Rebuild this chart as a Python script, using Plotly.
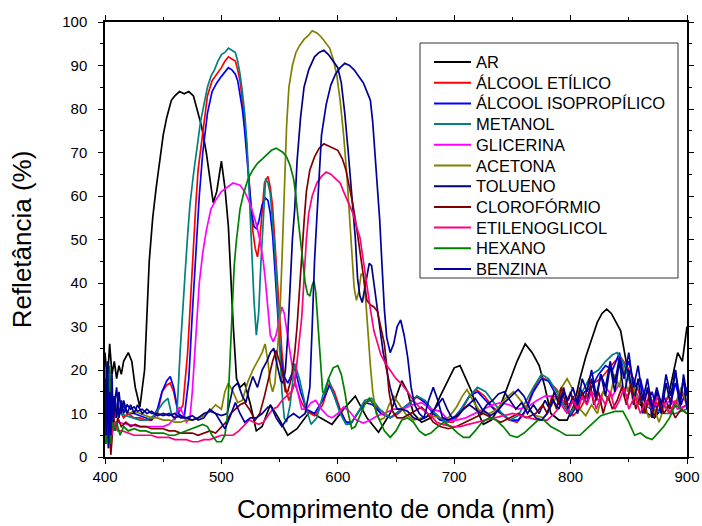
import plotly.graph_objects as go

# Reflectance spectra (%) versus wavelength (nm) for each medium
ar_nm = [400,402,404,406,408,410,412,414,416,418,420,423,426,430,434,438,441,444,447,450,453,457,460,464,468,472,476,480,483,487,490,493,496,500,503,506,510,513,516,520,525,530,535,542,549,557,565,576,585,595,605,615,625,635,645,655,660,665,672,680,688,695,700,705,710,715,720,725,732,740,747,754,761,767,773,778,783,790,797,803,808,813,818,823,827,831,835,839,843,847,851,855,860,866,872,878,884,888,892,896,900]
ar_r = [24,17,26,19,22,18,21,19,22,23,24,22,16,11.5,20,45,55,62,68,74,78,82,83,84,83.5,84,83,79,76,70,64,58.5,61,68,62,53,31,18,16,17,12,6,7,12,9,5,6.5,10.5,9,7.5,11,14,9,5.7,10,17.5,15,10,8,9,14,18,20.5,21,18,15,10.5,7.5,8.5,12,17,22,26,24,21,16,10,8.5,8.5,12,18,23,27,31,33,34,33,31,29,23,17,14,12,10,9,11,14,19,24,22,30]

etilico_nm = [400,403,406,409,412,416,420,425,430,435,440,445,449,453,456,459,463,467,471,474,476,478,480,484,488,492,496,500,503,506,509,512,514,516,518,520,522,525,527,529,531,533,535,537,540,542,544,546,548,550,552,555,558,563,568,573,580,587,593,597,602,607,611,617,623,628,635,645,652,660,668,675,682,688,694,699,705,712,719,726,733,740,747,754,760,767,774,781,788,795,802,808,814,820,826,832,838,843,848,854,860,866,872,878,884,890,895,900]
etilico_r = [12,6,14,9,11,9,10,9,9,8.5,8.5,10,15,16.5,17,15,10,12,24,40,49,58,66,75,83,86.5,88,89.5,91,92,91.5,91,89,86.5,82,77,70,60,52,48,46,50,57,63,64.5,62,57.5,49,40,30,24,16,13,17,13,10.5,9.5,12,17,15,11,8,7.5,10,12.5,13,11,9,10,12,13.8,12.5,10,8.5,8,8,10,13.5,15.5,14,11.5,10,8.5,8,10,15,18.5,17.5,15.5,12,9.5,11,14,17,18,20,22,23,21,18,14,12,13,11,14,12,15,12]

isopropilico_nm = [400,402,404,406,408,411,415,420,425,430,435,440,445,449,453,456,459,463,468,472,475,478,481,484,488,492,496,500,503,506,509,512,514,516,518,520,522,524,526,528,530,532,535,538,540,542,544,546,548,550,553,557,563,568,573,580,587,593,597,602,607,612,618,624,630,637,645,652,660,668,675,682,688,694,700,706,713,720,727,734,741,748,755,762,768,775,781,788,794,800,806,812,818,824,830,836,842,846,850,855,860,865,870,875,880,885,890,895,900]
isopropilico_r = [16,4,20,8,14,10,12,10,10,9.5,9,8.5,11,15,17.5,18.5,16,10,9,18,33,46,60,70,79,84,86,87.5,88.5,89.5,89,88,86.5,83,80,75,69,62,56,53,52.5,54,58,59.5,59,56,51,43,33,26,19,17,20.5,15,11,10,13,16.5,14,10.5,8,8,10.5,12.5,12,10,9,10.5,12,14,12.5,10,8.5,8.5,9,11,14,15,13,11,10,8.5,8.5,11,15,18,17.5,14,12,9.5,12,15,16,19,21,20,24,19,22,16,18,12,15,10,14,11,17,12,16]

metanol_nm = [400,402,404,406,409,413,418,424,430,436,442,446,450,454,457,460,462,464.5,467,469,471,473,476,479,482,485,488,491,494,497,500,503,506,509,512,514,516,518,520,522,524,526,528,530,532,534,536,538,540,542,544,546,548,550,552,554,556,559,563,567,572,577,582,587,592,597,602,607,611,617,623,629,636,645,652,660,668,675,682,688,694,700,706,713,720,727,734,741,748,755,762,768,775,781,788,794,800,806,812,818,824,830,836,840,845,850,856,862,870,880,890,900]
metanol_r = [20,8,15,10,12,10,9.5,9,8.5,8.5,9.5,11,12.5,13.5,10,8.5,11,24,36,43,51,58,65,71,77,81,85,87.5,89,91,92.5,93,94,93.5,93,91,88,84,79,72,60,47,36,28,33,45,56,64,63,60.5,54,47,37,26,15,9,8,12,21.5,18,12,7.5,9,14,18,14,10,7.5,7.6,10,13,13.5,11,9,10.5,12,14,13,10.5,9,8,9,11,14,16,15,12.5,10,8.5,9.5,13,16,19,18,15,12,10,13,16,19,20,22,23.5,24,22,18,14,12,11,10,10,11]

glicerina_nm = [400,410,420,430,440,450,455,460,464,467,470,473,475,477,479,481,484,487,491,495,500,505,510,516,520,525,530,533,536,538,540,542,544.5,547,550,552,554,556,559,562,566,569,573,577,581,586,591,595,600,605,610,616,622,628,634,640,648,656,664,672,680,688,695,702,710,718,726,733,740,747,755,763,771,778,785,792,800,806,812,818,824,830,836,842,848,854,860,866,872,880,886,892,900]
glicerina_r = [8,8,7.5,7,7,7,7.5,9,11.5,10,8,9,15,24,33,40,47,52,57,59,61,62,63,62.5,61,58,53.5,50,45,40,33,28,26.5,28,32,34.5,33,29,24,19,14,11,11,12.5,13,11,9.5,9,10,11.5,10.5,8.5,7.8,8.5,9.5,10,11,11,12,12.5,11,10.5,8.5,8.5,9,10,11,12,12.5,12,11,11.5,13,14,14,13,12,14,13,15,13,16,14,17,14,16,13,15,12,12,13,11,12]

acetona_nm = [400,402,404,406,408,411,415,420,425,430,435,440,445,450,455,460,465,470,475,480,485,490,495,500,503,506,510,514,518,523,527,531,535,537.5,540,542,544,546,548,550,552,554,556,558,561,564,567,571,575,578,582,586,590,593,596,599,602,605,608,610,612,614,616,618,620,622,624,626,628,630,633,636,640,644,648,653,658,665,672,680,688,695,702,707,711,716,722,730,737,744,751,757,763,770,777,784,790,797,803,808,813,818,823,828,833,838,842,845,849,853,858,862,867,872,876,881,886,891,895,900]
acetona_r = [14,5,18,9,13,10,11,10,10.5,10,9.5,9,9,8.5,8.5,8,8,8.5,8.5,9,9.5,10.5,12,11,15,17,15,12.5,13,17.5,20,22,24,26,22,17,15,17,24,31,45,62,76,85,90,93,94.5,96,97,98,97.5,96.5,95,94,91.5,88,82,74,64,55,47,39,36,38,42,42,36,28,21,15,10,8.5,9,12,14,12,10,8.5,9,9.5,9,9,11.5,14,15.5,13,10.5,10,11,13.5,15,13,11,9.5,9,12,15,18,15,11,9.5,12,10,15,13,19,16,21,15,18,12,14,9,11,8,12,10,13,16,12]

tolueno_nm = [400,401,402,403,404,405,406,407,408,410,412,414,416,419,422,425,428,432,436,440,445,450,455,460,465,470,475,480,485,490,495,500,505,510,514,518,521,524,527,531,535,539,542,545,548,551,553,555,557,559,561,563,565,568,571,575,580,584,588,592,596,600,603,606,609,611,613,615,617,619,621,624,627,629,631,634,637,639,642,645,648,651,655,660,665,670,675,680,686,690,694,698,703,708,713,718,723,728,733,738,743,748,753,758,763,768,773,778,782,786,790,794,798,802,806,810,814,818,822,826,830,834,838,842,846,850,854,858,862,866,870,874,878,882,886,890,894,897,900]
tolueno_r = [14,3,21,6,18,2,16,7,14,9,15,10,13,10,12,10,12,10,11,10,10,9.5,10,9,9.5,9,8.5,9,10,10.5,10,9.5,10,16,17,14,12.5,16,18.5,16,20,22,24,25,21,17.5,17,20,28,40,50,57,68,78,85,89,92,93,93.5,92.5,91,89.5,86,79,70,64,57,50.5,41,37,35.5,40,44.5,44,40,34,28,24,20,16,13,11,11,10.5,9,8.5,9,10,12,13.5,11,9,9.5,11,12,11,10,12,13,14.5,15,13,11,12.5,10,12,10,13,11,15,12,16,11,14,10,15,12,18,13,19,14,21,15,22,14,20,12,18,10,16,9,15,10,17,12,20,11,19,14]

cloroformio_nm = [400,401,402,403,404,405,406,407,409,411,414,418,422,426,430,435,440,445,450,455,460,465,470,475,480,485,490,495,500,504,508,512,516,520,524,529,533,537,540,544,547,550,552,555,557,560,563,565,567,569,571,573,576,580,584,588,592,596,600,604,607,610,613,616,619,622,625,628,631,634,637,640,642,644,647,651,656,662,668,672,677,682,688,695,702,710,718,725,732,740,748,755,762,770,776,780,784,788,792,796,800,804,808,812,816,820,824,828,832,836,840,844,848,852,856,860,864,868,872,876,880,885,890,895,900]
cloroformio_r = [16,6,12,3,8,0.5,4,10,6,9,7,8,7,7.5,7,7,6.5,6.5,6.5,6,6,5.5,5.5,5.5,5,5.5,6,5.5,7,8,10,11,12,12.5,11,8.5,10,14,17.5,22,24.5,22,20,15,15,18,24,30,39,46,54,61,66,69,71,72,71.5,71,70.5,68.5,66,62,58,53,47,41,36,35,34.5,33.5,30,26,21,15,10.5,9,9,10,11,11.5,10,8,7,6.5,7,8,9,10,9,8,9,10,9,10,12,10,14,11,16,12,15,11,16,13,18,12,15,10,14,11,13,16,12,17,11,14,10,15,9,13,10,12,9,11,10]

etilenoglicol_nm = [400,401,402,403,404,406,408,411,415,420,425,430,435,440,445,450,455,460,465,470,475,480,485,490,495,500,505,510,515,520,524,528,532,536,540,544,548,552,556,560,563,566,569,571,573,575,578,582,586,590,594,598,602,605,609,613,616,619,622,625,628,631,634,637,641,645,650,654,660,665,670,675,680,685,690,698,705,712,720,728,735,742,750,757,765,772,780,786,792,797,802,806,810,814,818,822,826,830,834,838,842,846,850,855,860,865,870,875,880,885,890,895,900]
etilenoglicol_r = [12,4,10,2,9,5,8,6,6,5.5,5,5,5,5,4.5,4.5,4.5,4,4,4,3.5,3.5,4,4,4.5,5,5,5,6,7.5,8.5,8,7.5,8,9.5,11,11.5,13,14,15,17,24,32,41,50,56,60,63,64.5,65.5,65,64,63,61,58.5,56,53,50.5,45,39,34,29,26,23.5,21.5,20,18,17,15,13,11.5,10.5,9.5,8,7.5,7,7,7.5,8,8.5,9,9.5,10,9.5,9,8.5,8.5,10,12,10,13,11,14,12,15,11,14,12,15,11,13,16,11,14,10,13,11,14,12,10,13,11,12]

hexano_nm = [400,401,402,403,404,405,406,408,410,413,416,420,425,430,435,440,445,450,455,460,465,470,475,480,484,488,492,496,500,503,505,507,509,511,513,516,519,523,527,531,535,539,543,547,550,553,556,559,562,564,566,568,570,572,574,576,578,579.5,581,583,585,587,589,592,596,600,603,606,609,612,615,619,623,627,631,635,640,645,650,655,660,665,670,675,680,686,691,697,703,708,713,718,724,730,736,742,748,754,760,766,772,777,783,790,796,802,808,814,820,826,832,838,845,850,855,860,865,870,875,880,885,890,895,900]
hexano_r = [12,3,10,4,21,3,9,6,8,5,7,6,6.5,6,6,5.5,5.5,5.5,5,5,5.5,6,6.5,7,7.5,7,5,3.5,3.5,5,9,20,31,44,50,57,60.5,64,66,67.5,68.5,69.5,70.5,71,70.5,70,69,67,64,60,54.5,50,45.5,40,37.5,37,39.5,40.5,38,31,23,15,14.5,18,20.5,21,19,15,10,6.5,7,9.5,12,13.5,12,9,6,4.5,6,8.5,9,8,6,5,5.5,7,8,7,5.5,4.5,4.5,6,8,9,8.5,7,5,4.5,5.5,7,8.5,8.5,7,6,5,5,5,6.5,8,9.5,10,10.5,10.5,8,5,5.5,4.5,4,5.5,7,9,12,11,10]

benzina_nm = [400,401,402,403,404,405,406,407,408,410,412,414,416,419,422,425,428,432,436,440,445,450,455,460,465,470,475,480,485,490,495,500,503,507,512,516,520,525,530,535,540,543,547,552,557,562,567,572,576,578,580,582,584,586,590,594,598,602,606,610,614,618,622,625,628,630,632,634,636,638,640,642,645,648,651,654,657,660,663,666,670,674,678,682,686,690,695,700,706,712,718,724,731,737,743,749,755,760,765,770,775,780,785,790,794,798,802,806,810,814,818,822,826,830,834,838,842,846,850,854,858,862,866,870,874,878,882,886,890,894,897,900]
benzina_r = [18,5,22,2,15,5,19,8,12,16,9,13,10,12,11,11.5,10.5,11,10,10.5,9.5,10,9.5,10,9,9,9.5,8.5,9,11,10,8,6.5,9,12.5,10,8,9,9,10,11.5,11.5,9,7,9,10,9,10,16,30,45,55,66,74,81,85.5,88,89.5,90.5,90,89,87.5,86,84,82,77,70,62,54.5,44,34,27.5,24,26,30,31.5,28,23,16,12,10,9,13,16,13,9,8.5,9,10.5,12,13.5,11,9.5,10.5,12.5,14,15.5,14,11,9,8.5,10,13,11,15,13,16,12,18,15,20,14,19,16,22,17,23,18,24,16,21,13,18,11,16,12,19,14,20,13,18,11]

series = [
    ("AR", ar_nm, ar_r, "#000000"),
    ("ÁLCOOL ETÍLICO", etilico_nm, etilico_r, "#FF0000"),
    ("ÁLCOOL ISOPROPÍLICO", isopropilico_nm, isopropilico_r, "#0000FF"),
    ("METANOL", metanol_nm, metanol_r, "#008080"),
    ("GLICERINA", glicerina_nm, glicerina_r, "#FF00FF"),
    ("ACETONA", acetona_nm, acetona_r, "#808000"),
    ("TOLUENO", tolueno_nm, tolueno_r, "#000080"),
    ("CLOROFÓRMIO", cloroformio_nm, cloroformio_r, "#800000"),
    ("ETILENOGLICOL", etilenoglicol_nm, etilenoglicol_r, "#FF0080"),
    ("HEXANO", hexano_nm, hexano_r, "#008000"),
    ("BENZINA", benzina_nm, benzina_r, "#0000A0"),
]

FONT = "Liberation Sans, Arial"

# Plot-area geometry in pixels (used to lay out the boxed key)
W, H = 702, 526
ML, MR, MT, MB = 105, 15, 22, 69
PW, PH = W - ML - MR, H - MT - MB


def px_x(px):
    return (px - ML) / PW


def px_y(py):
    return (H - MB - py) / PH


fig = go.Figure()
for name, x, y, color in series:
    fig.add_trace(go.Scatter(x=x, y=y, mode="lines", name=name,
                             line=dict(color=color, width=1.7),
                             showlegend=False))

# Boxed key inside the plot
key_left, key_right, key_top, key_bottom = 420, 678, 43, 278
key_first_row, key_row_step = 62, 20.7
shapes = [dict(type="rect", xref="paper", yref="paper",
               x0=px_x(key_left), x1=px_x(key_right),
               y0=px_y(key_bottom), y1=px_y(key_top),
               line=dict(color="#333333", width=1), fillcolor="white",
               layer="above")]
annotations = []
for i, (name, _, _, color) in enumerate(series):
    row_y = px_y(key_first_row + i * key_row_step)
    shapes.append(dict(type="line", xref="paper", yref="paper",
                       x0=px_x(434), x1=px_x(471), y0=row_y, y1=row_y,
                       line=dict(color=color, width=2), layer="above"))
    annotations.append(dict(xref="paper", yref="paper", x=px_x(474), y=row_y,
                            text=name, showarrow=False, xanchor="left",
                            yanchor="middle",
                            font=dict(family=FONT, size=16.5, color="black")))

axis_common = dict(
    showline=True, linecolor="black", linewidth=1.5, mirror="allticks",
    ticks="outside", ticklen=5, tickwidth=1.2, tickcolor="black",
    showgrid=False, zeroline=False, automargin=False,
    tickfont=dict(family=FONT, size=15, color="black"),
    title_font=dict(family=FONT, size=26, color="black"),
)

fig.update_xaxes(range=[400, 900], dtick=100, tick0=400,
                 minor=dict(dtick=50, ticks="outside", ticklen=3, tickcolor="black"),
                 title_text="Comprimento de onda (nm)", title_standoff=16,
                 **axis_common)
fig.update_yaxes(range=[0, 100], dtick=10, tick0=0,
                 minor=dict(dtick=5, ticks="outside", ticklen=3, tickcolor="black"),
                 title_text="Refletância (%)", title_standoff=23,
                 ticklabelstandoff=8,
                 **axis_common)

fig.update_layout(
    width=W, height=H,
    margin=dict(l=ML, r=MR, t=MT, b=MB),
    plot_bgcolor="white", paper_bgcolor="white",
    font=dict(family=FONT, color="black"),
    showlegend=False,
    shapes=shapes,
    annotations=annotations,
)

fig.write_html("out.html")
